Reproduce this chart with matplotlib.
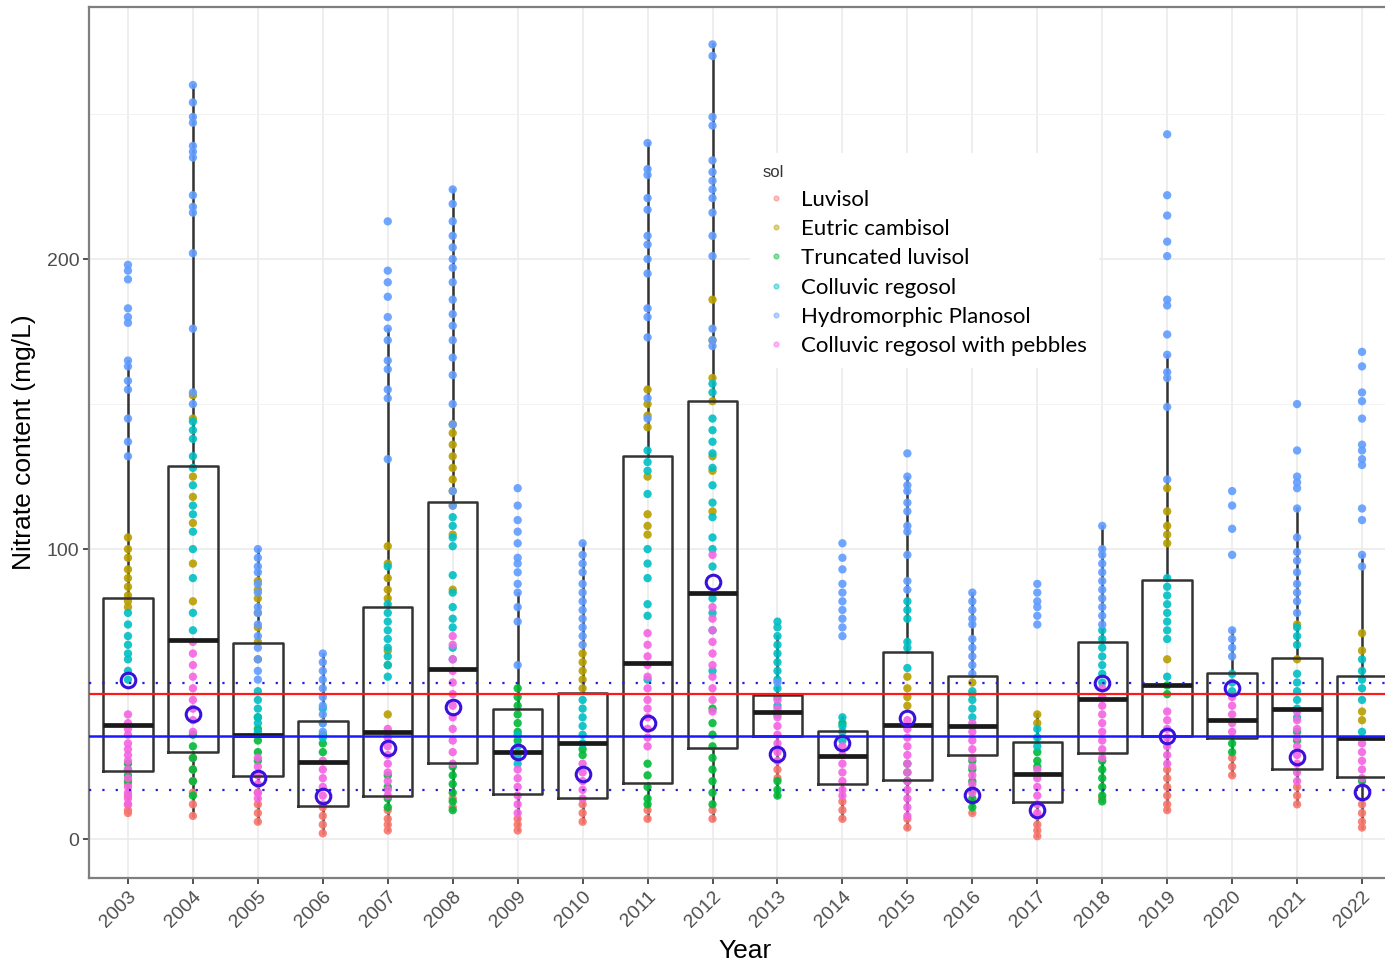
import matplotlib
matplotlib.use('Agg')
import matplotlib.pyplot as plt
from matplotlib.lines import Line2D

years = list(range(2003, 2023))
soils = ['Luvisol', 'Eutric cambisol', 'Truncated luvisol', 'Colluvic regosol',
         'Hydromorphic Planosol', 'Colluvic regosol with pebbles']
soil_colors = ['#F8766D', '#B79F00', '#00BA38', '#00BFC4', '#619CFF', '#F564E3']

# nitrate values per year (2003 .. 2022), one list per soil
luvisol = [
    [19, 15, 12, 10, 9], [28, 24, 20, 16, 12, 8], [16, 12, 9, 6], [11, 8, 5, 2],
    [10, 7, 5, 3], [14, 11], [7, 5, 3], [12, 9, 6], [10, 7], [10, 7],
    [24, 21], [13, 10, 7], [7, 4], [9], [8, 5, 3, 1],
    [14], [24, 21, 18, 15, 12, 10], [28, 25, 22], [18, 15, 12], [12, 9, 6, 4],
]
eutric = [
    [104, 100, 97, 93, 90, 87, 84, 82, 80], [153, 145, 125, 118, 109, 95, 82],
    [89, 86, 83, 78, 73, 68, 62], [], [101, 95, 90, 86, 83, 65, 60, 43],
    [143, 140, 136, 132, 128, 124, 120, 115, 105, 86], [], [64, 61, 58, 55, 52],
    [155, 150, 146, 142, 125, 112, 108, 105], [186, 172, 159, 151, 132, 127, 113],
    [], [], [56, 52, 49, 46], [54, 50], [43, 40],
    [], [121, 113, 108, 105, 102, 62], [], [74, 62], [71, 65, 44, 41],
]
truncated = [
    [26, 24, 22, 20], [36, 32, 28, 24, 20, 15], [42, 38, 34, 30, 27], [36, 33, 30],
    [22, 18, 14, 11], [25, 22, 19, 16, 13, 10], [52, 49, 46, 43, 40, 37, 34], [31, 29],
    [26, 22, 18, 14, 12], [45, 40, 36, 32, 28, 24, 20, 16, 12],
    [20, 17, 15], [40], [26, 23, 20], [27, 24, 20, 17, 14, 11], [30, 27, 25],
    [27, 24, 21, 18, 15, 13], [53, 50], [33, 30], [37, 34], [20],
]
colluvic = [
    [78, 74, 70, 67, 64, 62, 58, 55],
    [144, 141, 138, 132, 128, 122, 115, 112, 106, 100, 90, 78, 72],
    [51, 48, 45, 42, 40, 37], [45, 40, 35],
    [94, 81, 78, 75, 72, 69, 66, 63, 60, 56],
    [111, 108, 104, 101, 91, 85, 80, 76, 73, 66, 62],
    [36, 32, 29, 26], [48, 45, 42, 39, 36, 33],
    [134, 130, 127, 119, 100, 95, 90, 81, 77, 55],
    [157, 154, 145, 141, 137, 133, 128, 122, 116, 111, 104, 100, 94, 83, 78, 72, 58],
    [75, 73, 70, 67, 64, 61, 58, 55, 52, 49, 46, 43], [42, 39, 37, 34],
    [82, 79, 76, 68, 66, 59], [51, 48, 45, 42, 39], [38, 35, 32],
    [72, 69, 66, 63, 60, 57, 54], [90, 87, 84, 81, 78, 75, 72, 69, 56],
    [57, 54, 51], [73, 70, 67, 57, 54, 51, 48, 45, 42], [62, 58, 55, 52, 48, 37],
]
hydromorphic = [
    [198, 196, 193, 183, 180, 178, 165, 163, 158, 155, 145, 137, 132],
    [260, 254, 249, 247, 239, 237, 235, 222, 218, 216, 202, 176, 154, 150],
    [100, 97, 94, 92, 88, 85, 80, 78, 74, 70, 66, 62, 58, 55],
    [64, 61, 58, 55, 52, 49, 46, 43, 40, 37],
    [213, 196, 192, 187, 180, 176, 172, 165, 162, 155, 152, 131],
    [224, 219, 213, 208, 204, 200, 197, 192, 186, 181, 177, 172, 166, 160, 150, 143, 120, 115],
    [121, 115, 110, 106, 102, 97, 95, 92, 88, 85, 80, 75, 60],
    [102, 98, 95, 92, 88, 85, 82, 79, 76, 73, 70, 67],
    [240, 231, 229, 221, 217, 208, 205, 200, 195, 183, 180, 173, 152, 145],
    [274, 270, 249, 246, 234, 230, 227, 224, 221, 216, 208, 201, 176, 172, 170],
    [54],
    [102, 97, 93, 88, 85, 82, 79, 76, 73, 70],
    [133, 125, 122, 120, 116, 113, 108, 106, 98, 89, 86],
    [85, 82, 79, 76, 74, 69, 66, 63, 60, 57],
    [88, 85, 82, 80, 77, 74],
    [108, 100, 98, 95, 92, 89, 86, 83, 80, 77, 74],
    [243, 222, 215, 206, 201, 186, 184, 174, 167, 161, 159, 149, 124],
    [120, 115, 107, 98, 72, 69, 66, 63],
    [150, 134, 125, 123, 121, 114, 104, 99, 96, 92, 88, 85, 82, 78],
    [168, 163, 154, 151, 145, 136, 134, 131, 129, 114, 110, 98, 94],
]
pebbles = [
    [43, 40, 38, 36, 33, 31, 29, 27, 24, 21, 18, 16, 14, 12],
    [68, 64, 60, 56, 52, 48, 45, 41, 37], [28, 25, 22, 19, 16, 14],
    [27, 24, 21, 18, 15, 12], [38, 35, 32, 29, 26, 23, 20, 17, 15],
    [70, 67, 62, 58, 54, 50, 46, 42, 38, 34, 30, 26], [24, 21, 18, 15, 12, 9],
    [26, 23, 20, 17, 14], [71, 67, 63, 60, 56, 52, 48, 45, 42, 38, 35, 32],
    [98, 80, 76, 72, 68, 64, 60, 56, 52, 48, 44], [48, 45, 42, 39, 36, 33, 30, 27],
    [32, 29, 26, 23, 20, 17, 15], [41, 38, 35, 32, 29, 26, 23, 20, 17, 14, 11, 8],
    [40, 37, 34, 31, 28, 25, 22, 19, 16], [24, 21, 18, 15, 12, 9],
    [52, 49, 46, 43, 40, 37, 34, 31, 28], [44, 41, 38, 35, 32, 29, 26],
    [49, 46, 43, 40, 37], [44, 41, 38, 35, 32, 29, 26, 23, 20], [33, 30, 27, 24, 21],
]

# boxplot summary per year
q1 = [23.4, 30.0, 21.7, 11.4, 14.9, 26.1, 15.4, 14.3, 19.5, 31.5,
      35.5, 19.0, 20.3, 29.0, 12.9, 29.8, 35.6, 34.7, 24.1, 21.5]
med = [39.3, 68.6, 35.9, 26.6, 36.8, 58.5, 30.1, 33.2, 60.6, 84.9,
       43.7, 28.7, 39.3, 39.0, 22.4, 48.3, 53.1, 41.0, 45.0, 34.7]
q3 = [83.0, 128.6, 67.6, 40.7, 80.1, 116.3, 44.7, 50.5, 132.0, 151.1,
      49.7, 37.3, 64.6, 56.2, 33.5, 68.0, 89.5, 57.3, 62.3, 56.2]
whislo = [9, 8, 6, 2, 3, 10, 3, 6, 7, 7, 15, 7, 4, 9, 1, 13, 10, 22, 12, 4]
whishi = [165, 260, 100, 64, 176, 224, 85, 102, 240, 274,
          70, 42, 125, 85, 43, 108, 167, 72, 114, 98]
means = [55.0, 43.0, 21.0, 14.8, 31.5, 45.4, 30.1, 22.3, 39.9, 88.7,
         29.5, 33.0, 41.7, 15.2, 10.0, 53.7, 35.5, 52.2, 28.4, 16.1]

red_line = 50
blue_line = 35.5
dotted_lines = [53.8, 16.9]

narrow = ['Liberation Sans Narrow', 'Liberation Sans', 'DejaVu Sans']

fig = plt.figure(figsize=(13.85, 9.66), dpi=100)
ax = fig.add_axes([89 / 1385, 88 / 966, 1312 / 1385, 871 / 966])

pos = list(range(len(years)))
all_soils = [luvisol, eutric, truncated, colluvic, hydromorphic, pebbles]
for vals_by_year, col in zip(all_soils, soil_colors):
    for i, vals in enumerate(vals_by_year):
        if vals:
            ax.scatter([i] * len(vals), vals, s=36, color=col, edgecolors='none',
                       alpha=0.9, zorder=3)

stats = []
for i in range(len(years)):
    stats.append(dict(q1=q1[i], med=med[i], q3=q3[i], whislo=whislo[i],
                      whishi=whishi[i], fliers=[]))
bp = ax.bxp(stats, positions=pos, widths=0.76, showfliers=False, showcaps=False,
            patch_artist=False,
            boxprops=dict(color='#333333', lw=1.8),
            whiskerprops=dict(color='#333333', lw=1.8),
            medianprops=dict(color='#1a1a1a', lw=3.4))
for w in bp['whiskers']:
    w.set_zorder(2)
for b in bp['boxes']:
    b.set_zorder(4)
for m in bp['medians']:
    m.set_zorder(4)

ax.axhline(red_line, color='#FF1A1A', lw=1.6, zorder=5)
ax.axhline(blue_line, color='#1A1AFF', lw=1.8, zorder=5)
for v in dotted_lines:
    ax.axhline(v, color='#2020E0', lw=1.6, ls=(0, (1, 5)), zorder=5)

ax.plot(pos, means, ls='none', marker='o', ms=10.5, mfc='none', mec='#3a10dd',
        mew=2.2, zorder=6)

ax.set_xlim(-0.6, len(years) - 0.4)
ax.set_ylim(-13.4, 286.9)
ax.set_yticks([0, 100, 200])
ax.set_yticks([50, 150, 250], minor=True)
ax.set_xticks(pos)
ax.set_xticklabels([str(y) for y in years], rotation=45, ha='right', va='top',
                   rotation_mode='anchor', family=narrow, fontsize=14, color='#4D4D4D')
ax.set_yticklabels(['0', '100', '200'], family=narrow, fontsize=14, color='#4D4D4D')
ax.tick_params(axis='both', which='major', length=4, width=1.2, color='#333333', pad=3)
ax.tick_params(axis='y', which='minor', length=0)
ax.grid(True, which='major', color='#EBEBEB', lw=1.2, zorder=0)
ax.grid(True, which='minor', axis='y', color='#F2F2F2', lw=0.7, zorder=0)
ax.set_axisbelow(True)
for sp in ax.spines.values():
    sp.set_color('#7f7f7f')
    sp.set_linewidth(1.6)

ax.set_xlabel('Year', family=narrow, fontsize=19, labelpad=6)
ax.set_ylabel('Nitrate content (mg/L)', family=narrow, fontsize=19, labelpad=8)

handles = [Line2D([], [], ls='none', marker='o', ms=3.5, color=c, alpha=0.45)
           for c in soil_colors]
leg = ax.legend(handles, soils, loc='upper left',
                bbox_to_anchor=(750 / 1385, 1 - 153 / 966), bbox_transform=fig.transFigure,
                title='sol', prop=dict(family='Lato', size=16), frameon=True,
                facecolor='white', edgecolor='none', framealpha=1,
                labelspacing=0.42, handletextpad=0.55, handlelength=1.2,
                borderpad=0.55, borderaxespad=0)
leg.get_title().set_fontsize(12)
leg.get_title().set_family(narrow)
leg.get_title().set_color('#333333')
leg._legend_box.align = 'left'
leg.get_frame().set_boxstyle('square', pad=0)
leg.set_zorder(10)

fig.savefig('out.png', dpi=100)
